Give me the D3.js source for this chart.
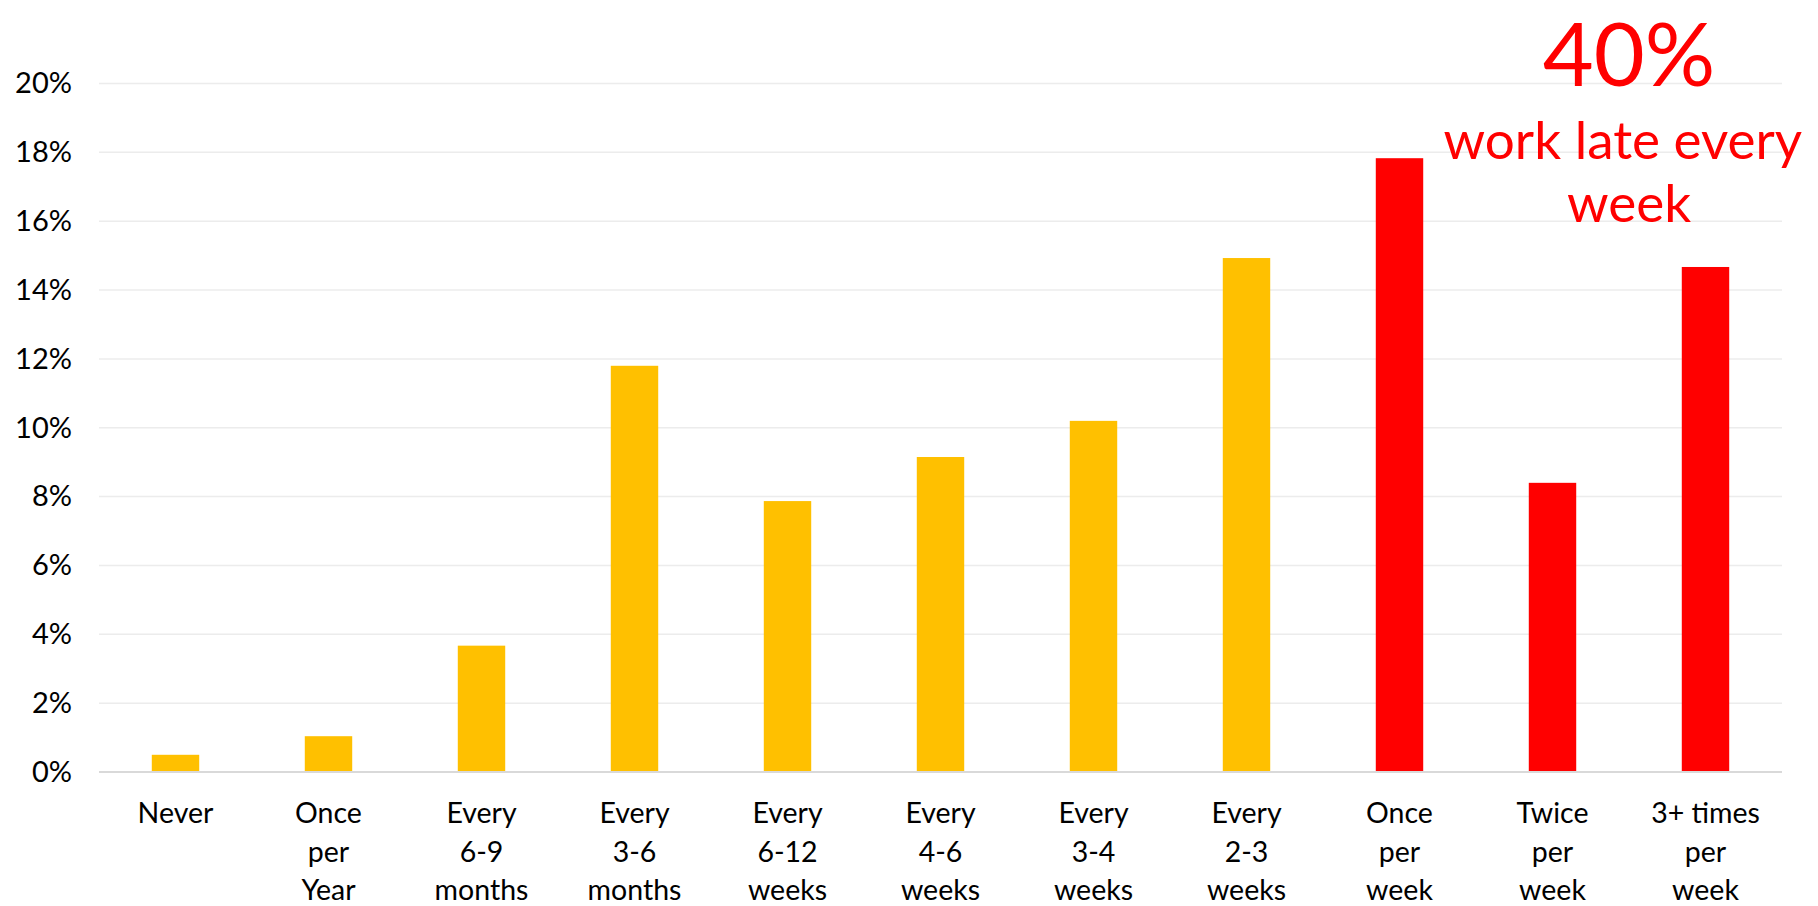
<!DOCTYPE html>
<html>
<head>
<meta charset="utf-8">
<script src="https://cdn.jsdelivr.net/npm/d3@7"></script>
<style>
  html, body { margin: 0; padding: 0; background: #fff; }
  svg { display: block; }
  text { font-family: Lato, "Open Sans", sans-serif; }
</style>
</head>
<body>
<svg id="chart" width="1818" height="906"></svg>
<script>
// ---- data ----
const categories = [
  "Never", "Once\nper\nYear", "Every\n6-9\nmonths", "Every\n3-6\nmonths",
  "Every\n6-12\nweeks", "Every\n4-6\nweeks", "Every\n3-4\nweeks", "Every\n2-3\nweeks",
  "Once\nper\nweek", "Twice\nper\nweek", "3+ times\nper\nweek"
];
const values = [0.5, 1.04, 3.67, 11.8, 7.87, 9.15, 10.2, 14.93, 17.83, 8.4, 14.67];
const highlighted = [false, false, false, false, false, false, false, false, true, true, true];
const yTicks = [0, 2, 4, 6, 8, 10, 12, 14, 16, 18, 20];
const annotationBig = "40%";
const annotationLines = ["work late every ", "week"];

// ---- layout ----
const svg = d3.select("#chart");
const margin = { left: 99, right: 36, top: 83.5, bottom: 134 };
const W = 1818, H = 906;
const x = d3.scaleBand().domain(categories).range([margin.left, W - margin.right]).paddingInner(0.69).paddingOuter(0.345);
const y = d3.scaleLinear().domain([0, 20]).range([H - margin.bottom, margin.top]);

// gridlines
svg.append("g").selectAll("line").data(yTicks.filter(d => d > 0)).join("line")
  .attr("x1", margin.left).attr("x2", W - margin.right)
  .attr("y1", d => y(d)).attr("y2", d => y(d))
  .attr("stroke", "#ececec").attr("stroke-width", 1.5);

// y axis labels
const yAxis = d3.axisLeft(y).tickValues(yTicks).tickFormat(d => d + "%").tickSize(0).tickPadding(0);
const yg = svg.append("g").attr("transform", `translate(${margin.left - 27},0)`).call(yAxis);
yg.select(".domain").remove();
yg.selectAll("text").attr("font-size", 29).attr("fill", "#000").attr("font-family", "Lato, sans-serif");

// bars
svg.append("g").selectAll("rect").data(values).join("rect")
  .attr("x", (d, i) => x(categories[i]))
  .attr("width", x.bandwidth())
  .attr("y", d => y(d))
  .attr("height", d => y(0) - y(d))
  .attr("fill", (d, i) => highlighted[i] ? "#FF0000" : "#FFC000");

// baseline
svg.append("line")
  .attr("x1", margin.left).attr("x2", W - margin.right)
  .attr("y1", y(0)).attr("y2", y(0))
  .attr("stroke", "#d9d9d9").attr("stroke-width", 2);

// x labels
const xl = svg.append("g");
categories.forEach(c => {
  const lines = c.split("\n");
  const t = xl.append("text")
    .attr("x", x(c) + x.bandwidth() / 2)
    .attr("y", y(0) + 51)
    .attr("text-anchor", "middle")
    .attr("font-size", 28.5)
    .attr("fill", "#000");
  lines.forEach((l, i) => {
    t.append("tspan").attr("x", x(c) + x.bandwidth() / 2).attr("dy", i === 0 ? 0 : 38.5).text(l);
  });
});

// annotation
const ax = (x(categories[9]) + x(categories[10]) + x.bandwidth()) / 2;
svg.append("text")
  .attr("x", ax).attr("y", 86)
  .attr("text-anchor", "middle")
  .attr("font-size", 88)
  .attr("fill", "#FF0000")
  .text(annotationBig);
annotationLines.forEach((l, i) => {
  svg.append("text")
    .attr("x", ax).attr("y", 159 + i * 63)
    .attr("text-anchor", "middle")
    .attr("font-size", 53)
    .attr("fill", "#FF0000")
    .attr("xml:space", "preserve")
    .style("white-space", "pre")
    .text(l);
});
</script>
</body>
</html>
